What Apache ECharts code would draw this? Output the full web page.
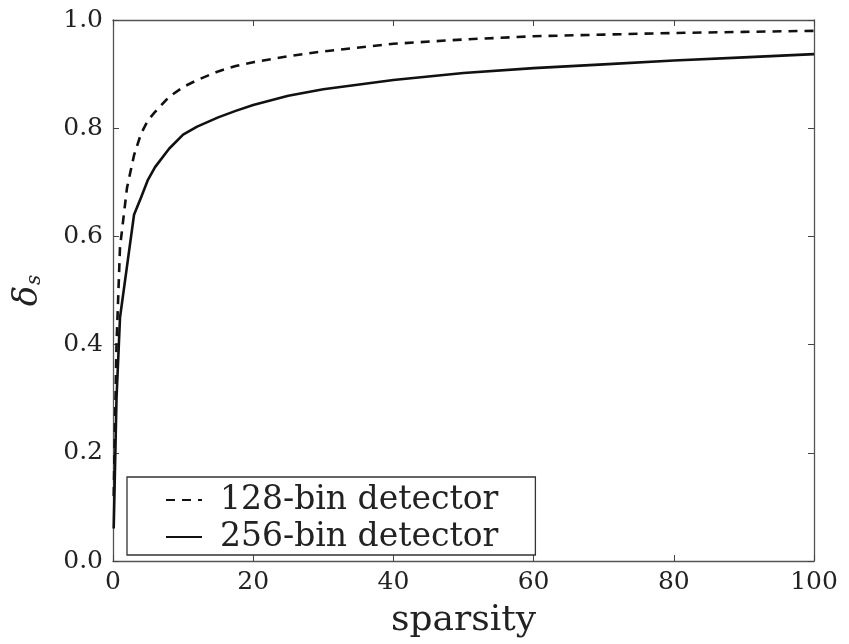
<!DOCTYPE html>
<html>
<head>
<meta charset="utf-8">
<script src="https://cdn.jsdelivr.net/npm/echarts@6/dist/echarts.min.js"></script>
<style>
  html, body { margin: 0; padding: 0; background: #fff; }
  #chart { width: 849px; height: 644px; }
</style>
</head>
<body>
<div id="chart"></div>
<script>
var sparsity = [0.1, 0.5, 1, 2, 3, 4, 5, 6, 8, 10, 12, 15, 17.5, 20, 25, 30, 40, 50, 60, 70, 80, 90, 100];
var bin128 = [0.12, 0.40, 0.58, 0.69, 0.75, 0.79, 0.815, 0.83, 0.858, 0.876, 0.889, 0.905, 0.915, 0.922, 0.933, 0.942, 0.956, 0.964, 0.970, 0.973, 0.976, 0.978, 0.980];
var bin256 = [0.06, 0.30, 0.45, 0.545, 0.64, 0.672, 0.705, 0.728, 0.762, 0.788, 0.803, 0.82, 0.832, 0.843, 0.86, 0.872, 0.889, 0.902, 0.911, 0.918, 0.925, 0.931, 0.937];
var seriesNames = ['128-bin detector', '256-bin detector'];

var chart = echarts.init(document.getElementById('chart'));
var serif = 'DejaVu Serif';
var frame = { show: true, onZero: false, lineStyle: { color: '#555', width: 1.3 } };
var tick = { show: true, inside: true, length: 6, lineStyle: { color: '#444', width: 1 } };

function pairs(ys) {
    return sparsity.map(function (x, i) { return [x, ys[i]]; });
}

var option = {
    backgroundColor: '#fff',
    animation: false,
    grid: { left: 113, right: 35, top: 20, bottom: 81 },
    legend: {
        orient: 'vertical',
        left: 127,
        top: 477,
        padding: [5, 37, 0, 38],
        itemGap: 1,
        itemWidth: 36,
        itemHeight: 14,
        borderColor: '#333',
        borderWidth: 1.3,
        itemStyle: { opacity: 0 },
        data: seriesNames,
        textStyle: { fontFamily: serif, fontSize: 33, color: '#222', lineHeight: 36, padding: [0, 0, 0, 13] }
    },
    xAxis: [{
        type: 'value', min: 0, max: 100, interval: 20,
        name: 'sparsity', nameLocation: 'middle', nameGap: 42,
        nameTextStyle: { fontFamily: serif, fontSize: 36, color: '#222' },
        axisLine: frame, axisTick: tick, splitLine: { show: false },
        axisLabel: { fontFamily: serif, fontSize: 25, color: '#222', margin: 9 }
    }, {
        type: 'value', min: 0, max: 100, interval: 20, position: 'top',
        axisLine: frame, axisTick: tick, splitLine: { show: false },
        axisLabel: { show: false }
    }],
    yAxis: [{
        type: 'value', min: 0, max: 1, interval: 0.2,
        name: '{d|δ}{s|s}', nameLocation: 'middle', nameGap: 68, nameRotate: 90,
        nameTextStyle: {
            rich: {
                d: { fontFamily: serif, fontStyle: 'italic', fontSize: 34, color: '#222' },
                s: { fontFamily: serif, fontStyle: 'italic', fontSize: 20, color: '#222', verticalAlign: 'bottom', padding: [14, 0, 0, 1] }
            }
        },
        axisLine: frame, axisTick: tick, splitLine: { show: false },
        axisLabel: {
            fontFamily: serif, fontSize: 25, color: '#222', margin: 10,
            formatter: function (v) { return v.toFixed(1); }
        }
    }, {
        type: 'value', min: 0, max: 1, interval: 0.2, position: 'right',
        axisLine: frame, axisTick: tick, splitLine: { show: false },
        axisLabel: { show: false }
    }],
    series: [{
        name: seriesNames[0], type: 'line', symbol: 'none',
        xAxisIndex: 0, yAxisIndex: 0,
        data: pairs(bin128),
        lineStyle: { color: '#111', width: 2.6, type: [9, 7] },
        itemStyle: { color: '#111' }
    }, {
        name: seriesNames[1], type: 'line', symbol: 'none',
        xAxisIndex: 0, yAxisIndex: 0,
        data: pairs(bin256),
        lineStyle: { color: '#111', width: 2.6 },
        itemStyle: { color: '#111' }
    }]
};
chart.setOption(option);
</script>
</body>
</html>
